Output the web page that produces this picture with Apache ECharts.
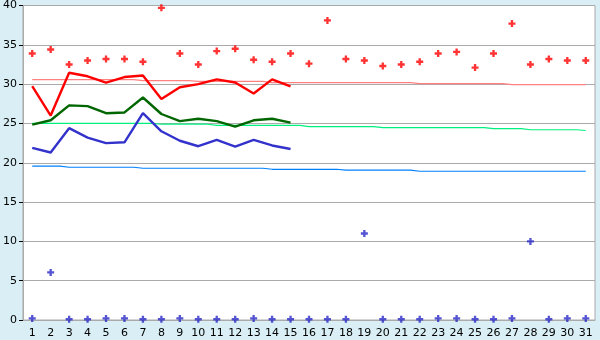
<!DOCTYPE html>
<html><head><meta charset="utf-8">
<script src="https://cdn.jsdelivr.net/npm/echarts@6/dist/echarts.min.js"></script>
<style>html,body{margin:0;padding:0;background:#d9eff5}#c{width:600px;height:340px}</style>
</head><body><div id="c"></div>
<script>
const days = Array.from({length:31},(_,i)=>String(i+1));
const yTicks = [0,5,10,15,20,25,30,35,40];
const maxPts = [33.9,34.4,32.5,33.0,33.2,33.2,32.85,39.7,33.9,32.5,34.2,34.5,33.1,32.85,33.9,32.6,38.1,33.2,33.0,32.3,32.5,32.85,33.9,34.1,32.1,33.9,37.7,32.5,33.2,33.0,33.0];
const minPts = [0.2,6.05,0.1,0.1,0.2,0.2,0.1,0.1,0.2,0.1,0.1,0.1,0.2,0.1,0.1,0.1,0.1,0.1,11.0,0.1,0.1,0.1,0.2,0.2,0.1,0.1,0.2,10.0,0.1,0.2,0.2];
const redLine = [29.75,26.0,31.45,31.0,30.2,30.9,31.1,28.1,29.6,30.0,30.6,30.2,28.8,30.6,29.7];
const greenLine = [24.85,25.4,27.3,27.2,26.3,26.4,28.3,26.2,25.3,25.6,25.3,24.6,25.4,25.6,25.1];
const blueLine = [21.9,21.3,24.4,23.2,22.5,22.6,26.3,24.0,22.8,22.1,22.9,22.05,22.9,22.2,21.75];
const normMax = [30.57,30.57,30.57,30.57,30.57,30.57,30.44,30.44,30.44,30.35,30.35,30.35,30.35,30.18,30.18,30.18,30.18,30.18,30.18,30.18,30.18,30.06,30.06,30.06,30.06,30.06,29.93,29.93,29.93,29.93,29.93];
const normMean = [25.0,25.0,25.0,25.0,25.0,25.0,25.0,24.9,24.9,24.9,24.76,24.76,24.76,24.76,24.76,24.6,24.6,24.6,24.6,24.47,24.47,24.47,24.47,24.47,24.47,24.34,24.34,24.2,24.2,24.2,24.1];
const normMin = [19.56,19.56,19.43,19.43,19.43,19.43,19.3,19.3,19.3,19.3,19.3,19.3,19.3,19.17,19.17,19.17,19.17,19.05,19.05,19.05,19.05,18.92,18.92,18.92,18.92,18.92,18.92,18.92,18.92,18.92,18.92];

const plus = 'path://M2,0 H4 V2 H6 V4 H4 V6 H2 V4 H0 V2 H2 Z';
const font = 'DejaVu Sans';
const chart = echarts.init(document.getElementById('c'), null, {renderer:'canvas'});
function thin(data,color){return {type:'line',data,step:'middle',symbol:'none',lineStyle:{color,width:1.2},itemStyle:{color},z:2,silent:true};}
function thick(data,color){return {type:'line',data,symbol:'none',lineStyle:{color,width:2.4},itemStyle:{color},z:3,silent:true};}
chart.setOption({
  animation:false,
  backgroundColor:'#d9eff5',
  grid:{left:20,right:5,top:5,bottom:20,show:true,backgroundColor:'#fff',borderColor:'#aaa',borderWidth:1},
  xAxis:{type:'category',data:days,boundaryGap:true,
    axisLine:{lineStyle:{color:'#aaa'}},
    axisTick:{alignWithLabel:true,length:6,lineStyle:{color:'#000'}},
    axisLabel:{color:'#000',fontFamily:font,fontSize:11,margin:8,interval:0},
    splitLine:{show:false}},
  yAxis:{type:'value',min:yTicks[0],max:yTicks[yTicks.length-1],interval:5,
    axisLine:{show:true,lineStyle:{color:'#aaa'}},
    axisTick:{show:true,length:4,lineStyle:{color:'#000'}},
    axisLabel:{color:'#000',fontFamily:font,fontSize:11,margin:6},
    splitLine:{lineStyle:{color:'#aaa',width:1}}},
  series:[
    thin(normMax,'#ff8080'),
    thin(normMean,'#00f080'),
    thin(normMin,'#0080ff'),
    thick(redLine,'#ff0000'),
    thick(greenLine,'#006600'),
    thick(blueLine,'#3333cc'),
    {type:'scatter',data:maxPts,symbol:plus,symbolSize:7,itemStyle:{color:'#ff0000'},z:4,silent:true},
    {type:'scatter',data:minPts,symbol:plus,symbolSize:7,itemStyle:{color:'#2a2ac8'},z:4,silent:true}
  ]
});
</script></body></html>
